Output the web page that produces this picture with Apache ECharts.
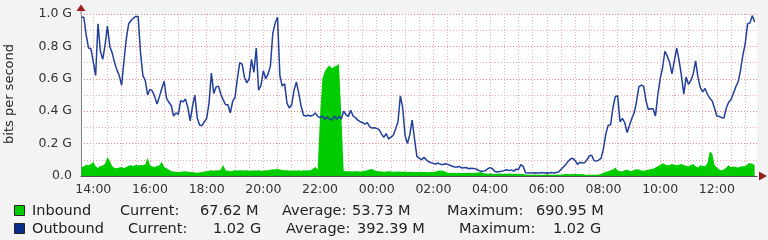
<!DOCTYPE html>
<html>
<head>
<meta charset="utf-8">
<script src="https://cdn.jsdelivr.net/npm/echarts@6/dist/echarts.min.js"></script>
<style>html,body{margin:0;padding:0;background:#f3f3f3}#c{width:768px;height:240px}</style>
</head>
<body>
<div id="c"></div>
<script>
// Time in minutes relative to 14:00; samples every 5 minutes starting at 13:35
const START_MIN = -25;
const STEP_MIN = 5;
const X_MIN = -26;   // 13:34
const X_MAX = 1405;  // 13:25 next day

// Tick positions (minutes from 14:00)
const majorTicks = [0, 120, 240, 360, 480, 600, 720, 840, 960, 1080, 1200, 1320];
const minorTicks = [0,30,60,90,120,150,180,210,240,270,300,330,360,390,420,450,480,510,540,570,600,630,660,690,720,750,780,810,840,870,900,930,960,990,1020,1050,1080,1110,1140,1170,1200,1230,1260,1290,1320,1350,1380];
const yTicks = [0, 200, 400, 600, 800, 1000];

// Inbound (Mbit/s), 5-minute samples
const inbound = [
54,60,70,68,72,88,60,50,62,65,75,118,92,62,50,48,52,56,50,55,
64,66,62,70,65,68,66,72,112,66,58,55,62,66,88,55,48,40,30,28,
26,25,27,28,29,27,25,24,22,20,22,25,28,30,32,35,33,35,34,40,
68,36,32,30,33,35,34,36,35,34,35,33,32,35,34,36,33,32,35,36,
38,40,42,45,40,37,35,36,34,33,35,34,36,33,35,34,36,35,45,55,
40,370,600,645,668,682,665,675,680,691,380,32,30,30,29,28,30,29,28,30,
32,35,40,43,36,30,29,28,27,28,30,28,27,26,28,27,26,27,25,26,
25,24,25,25,24,25,24,23,24,25,28,32,34,33,28,20,19,20,18,19,
20,19,18,19,20,18,19,20,22,24,18,15,14,15,14,13,14,15,14,13,
14,15,14,13,14,13,12,12,9,8,7,8,9,8,7,8,8,9,8,7,
8,9,8,8,11,12,12,11,12,13,12,11,12,10,8,8,7,8,8,9,
12,20,26,30,35,40,52,34,30,29,35,39,32,30,39,42,40,34,33,36,
39,43,45,52,60,68,78,73,66,70,74,70,67,71,74,68,64,60,68,74,
60,53,66,64,60,78,152,140,70,52,40,35,40,53,66,54,58,56,53,58,
60,62,73,80,75,68
];

// Outbound (Mbit/s), 5-minute samples
const outbound = [
980,980,870,790,785,705,620,940,770,720,810,925,800,760,700,655,620,560,710,850,
940,960,975,985,985,760,620,590,500,535,525,490,445,490,540,585,480,455,435,370,
390,380,465,457,475,425,340,430,500,360,315,310,335,355,450,636,510,550,555,505,
470,440,440,390,460,485,600,700,690,610,575,600,720,640,790,530,560,650,600,630,
680,880,944,980,620,555,570,450,420,440,530,580,510,430,375,370,375,370,375,389,
368,360,370,350,365,350,345,370,350,368,352,400,378,368,405,370,360,345,335,330,
320,330,305,296,298,294,286,260,238,262,228,240,250,290,335,495,420,250,200,255,
345,230,121,110,100,115,100,88,82,78,74,80,72,70,76,72,66,60,55,56,
58,50,51,52,45,48,47,44,35,30,30,33,45,52,45,28,25,28,30,34,
39,33,38,30,42,40,70,60,20,18,18,18,20,18,19,22,18,20,18,21,
19,22,25,40,55,70,90,105,110,95,72,85,80,82,100,125,128,95,92,98,
110,170,260,313,315,420,490,495,335,355,330,268,312,355,390,460,552,560,555,465,
410,415,415,370,500,600,665,770,740,700,630,710,790,715,620,505,610,565,590,630,
710,610,545,520,540,505,480,465,420,370,368,360,358,420,455,472,510,550,580,650,
745,815,938,945,990,950
];

const legendRows = [
  ['Inbound', 'Current:', '67.62 M', 'Average:', '53.73 M', 'Maximum:', '690.95 M'],
  ['Outbound', 'Current:', '1.02 G', 'Average:', '392.39 M', 'Maximum:', '1.02 G']
];
const legendColors = ['#00cc00', '#0c2d8c'];
const yTitle = 'bits per second';

const toPairs = arr => arr.map((v, i) => [START_MIN + STEP_MIN * i, v]);
const fmtTime = m => {
  const h = ((14 + Math.round(m / 60)) % 24 + 24) % 24;
  return (h < 10 ? '0' : '') + h + ':00';
};

const FONT = 'DejaVu Sans';
const gridColor = '#efaaaa';

const legendX = [[32, 120, 200, 282, 352, 447, 536], [32, 128, 213, 286, 357, 459, 553]];
const legendY = [211, 229];
const graphics = [];
legendRows.forEach((row, r) => {
  graphics.push({
    type: 'rect', shape: { x: 14.5, y: legendY[r] - 5.5, width: 10, height: 10 },
    style: { fill: legendColors[r], stroke: '#222', lineWidth: 1 }
  });
  row.forEach((t, k) => {
    graphics.push({
      type: 'text', x: legendX[r][k], y: legendY[r],
      style: { text: t, fontFamily: FONT, fontSize: 14.5, fill: '#222', verticalAlign: 'middle', align: 'left' }
    });
  });
});
graphics.push({
  type: 'text', x: 10, y: 94, rotation: Math.PI / 2,
  style: { text: yTitle, fontFamily: FONT, fontSize: 13, fill: '#222', align: 'center', verticalAlign: 'middle' }
});
// axis arrows
graphics.push({ type: 'line', shape: { x1: 81, y1: 14, x2: 81, y2: 9 }, style: { stroke: '#808080', lineWidth: 1 } });
graphics.push({ type: 'polygon', shape: { points: [[81, 4.5], [76.5, 11], [85.5, 11]] }, style: { fill: '#9c1f1f' } });
graphics.push({ type: 'polygon', shape: { points: [[767, 176], [759, 171.5], [759, 180.5]] }, style: { fill: '#9c1f1f' } });

const chart = echarts.init(document.getElementById('c'), null, { renderer: 'canvas' });
chart.setOption({
  backgroundColor: '#f3f3f3',
  animation: false,
  grid: { left: 81, right: 11, top: 14, bottom: 64, show: true, backgroundColor: '#ffffff', borderWidth: 0, containLabel: false, outerBoundsMode: 'none' },
  xAxis: [
    {
      type: 'value', min: X_MIN, max: X_MAX,
      axisLine: { show: true, onZero: false, lineStyle: { color: '#505050', width: 1 } },
      axisTick: { show: true, inside: true, length: 3, customValues: majorTicks, lineStyle: { color: '#d04040' } },
      axisLabel: { customValues: majorTicks, formatter: fmtTime, fontFamily: FONT, fontSize: 12.5, color: '#333', margin: 7 },
      splitLine: { show: true, lineStyle: { color: '#e88888', type: [1, 2], width: 1 } }
    },
    {
      type: 'value', min: X_MIN, max: X_MAX, position: 'bottom',
      axisLine: { show: false, onZero: false },
      axisTick: { show: false, customValues: minorTicks },
      axisLabel: { show: false, customValues: minorTicks },
      splitLine: { show: true, lineStyle: { color: gridColor, type: [1, 2], width: 1 } }
    }
  ],
  yAxis: {
    type: 'value', min: 0, max: 1000, interval: 200,
    axisLine: { show: true, onZero: false, lineStyle: { color: '#808080', width: 1 } },
    axisTick: { show: false },
    axisLabel: {
      formatter: v => v === 0 ? '0.0' : (v / 1000).toFixed(1) + ' G',
      fontFamily: FONT, fontSize: 12.5, color: '#333', margin: 9
    },
    splitLine: { show: true, lineStyle: { color: '#e88888', type: [1, 2], width: 1 } },
    minorTick: { show: false, splitNumber: 2 },
    minorSplitLine: { show: true, lineStyle: { color: gridColor, type: [1, 2], width: 1 } }
  },
  series: [
    {
      name: 'Inbound', type: 'line', data: toPairs(inbound), showSymbol: false, symbol: 'none',
      lineStyle: { width: 0 }, areaStyle: { color: '#00cc00', opacity: 1 }, itemStyle: { color: '#00cc00' }, z: 2
    },
    {
      name: 'Outbound', type: 'line', data: toPairs(outbound), showSymbol: false, symbol: 'none',
      lineStyle: { width: 1.5, color: '#213f9c' }, itemStyle: { color: '#213f9c' }, z: 3
    }
  ],
  graphic: graphics
});
</script>
</body>
</html>
